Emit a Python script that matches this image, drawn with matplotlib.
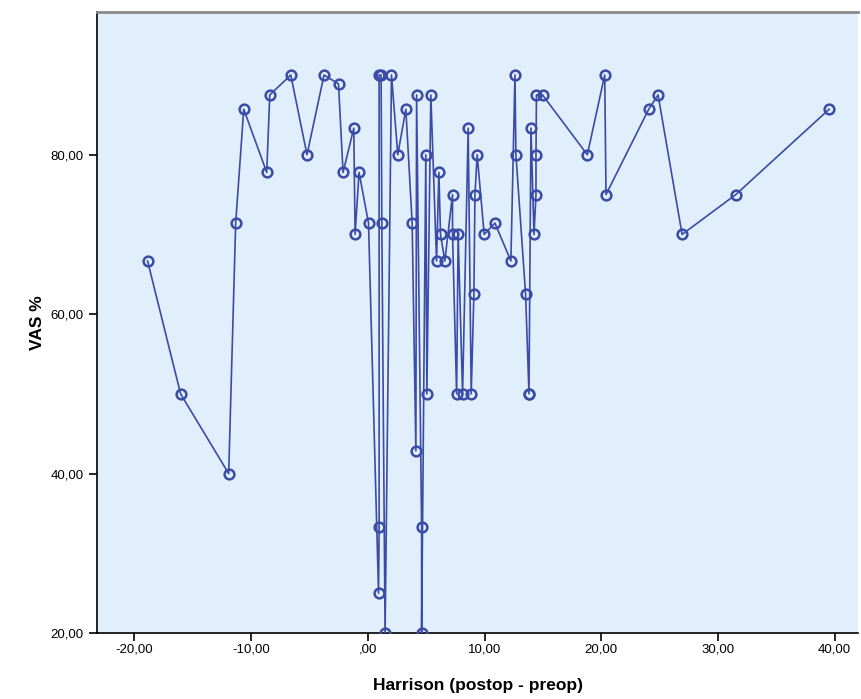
import matplotlib
matplotlib.use("Agg")
import matplotlib.pyplot as plt
from matplotlib.ticker import FuncFormatter

# Harrison change (postop - preop) vs VAS %, sorted by x as SPSS draws it
harrison = [-18.87, -16.04, -11.92, -11.32, -10.63, -8.66, -8.40, -6.60, -5.21,
            -3.75, -2.51, -2.12, -1.20, -1.09, -0.75, 0.06, 0.92, 0.97, 0.97,
            1.14, 1.20, 1.48, 2.03, 2.57, 3.26, 3.80, 4.12, 4.18, 4.61, 4.61,
            4.97, 5.06, 5.40, 5.89, 6.09, 6.23, 6.60, 7.26, 7.26, 7.61, 7.74,
            8.12, 8.60, 8.86, 9.09, 9.18, 9.37, 9.97, 10.89, 12.26, 12.61,
            12.69, 13.52, 13.81, 13.81, 13.98, 14.24, 14.41, 14.41, 14.45,
            14.97, 18.81, 20.30, 20.41, 24.07, 24.87, 26.93, 31.53, 39.53]
vas = [66.67, 50.00, 40.00, 71.43, 85.71, 77.78, 87.50, 90.00, 80.00,
       90.00, 88.89, 77.78, 83.33, 70.00, 77.78, 71.43, 25.00, 33.33, 90.00,
       90.00, 71.43, 20.00, 90.00, 80.00, 85.71, 71.43, 42.86, 87.50, 33.33, 20.00,
       80.00, 50.00, 87.50, 66.67, 77.78, 70.00, 66.67, 75.00, 70.00, 50.00, 70.00,
       50.00, 83.33, 50.00, 62.50, 75.00, 80.00, 70.00, 71.43, 66.67, 90.00,
       80.00, 62.50, 50.00, 50.00, 83.33, 70.00, 75.00, 80.00, 87.50,
       87.50, 80.00, 90.00, 75.00, 85.71, 87.50, 70.00, 75.00, 85.71]

x_ticks = [-20, -10, 0, 10, 20, 30, 40]
y_ticks = [20, 40, 60, 80]

plt.rcParams['font.family'] = ['Liberation Sans', 'DejaVu Sans']

blue = '#3a4ca5'

fig = plt.figure(figsize=(8.61, 6.99), dpi=100)
ax = fig.add_axes([0.1127, 0.0944, 0.8838, 0.8884])
ax.set_facecolor('#e1eefb')

ax.plot(harrison, vas, color=blue, linewidth=1.2, marker='o', markersize=7,
        markerfacecolor='none', markeredgecolor=blue, markeredgewidth=1.8,
        zorder=3)

ax.set_xlim(-23.2, 42.0)
ax.set_ylim(20, 97.9)
ax.set_xticks(x_ticks)
ax.set_yticks(y_ticks)


def comma_fmt(v, pos):
    s = "%.2f" % v
    s = s.replace('.', ',')
    if s.startswith('0,'):
        s = s[1:]
    return s


ax.xaxis.set_major_formatter(FuncFormatter(comma_fmt))
ax.yaxis.set_major_formatter(FuncFormatter(comma_fmt))
ax.tick_params(axis='both', direction='out', length=6, width=1.2,
               labelsize=9.5, color='black')
ax.tick_params(axis='x', pad=1.5)

for side in ['left', 'bottom']:
    ax.spines[side].set_color('black')
    ax.spines[side].set_linewidth(1.2)
ax.spines['top'].set_color('#8a8a8a')
ax.spines['top'].set_linewidth(2)
ax.spines['right'].set_visible(False)

ax.set_xlabel('Harrison (postop - preop)', fontsize=12.5, fontweight='bold',
              labelpad=16)
ax.set_ylabel('VAS %', fontsize=12.5, fontweight='bold', labelpad=4)

fig.savefig('out.png', dpi=100)
